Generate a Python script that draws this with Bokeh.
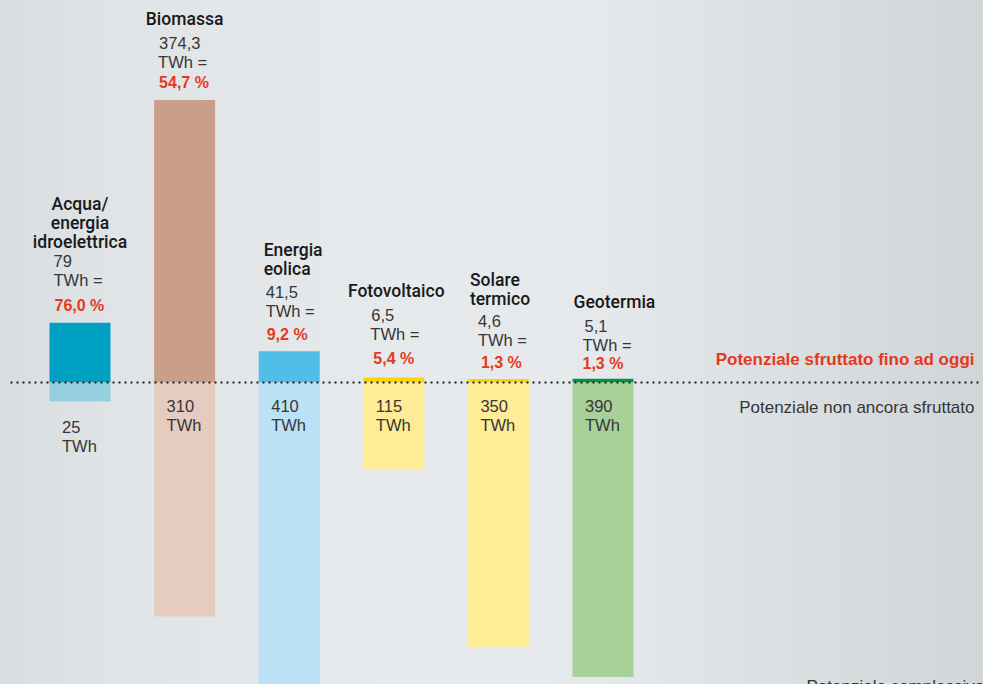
from bokeh.plotting import figure
from bokeh.models import Range1d, GlobalInlineStyleSheet
from bokeh.embed import file_html
from bokeh.resources import INLINE
from bokeh.core.properties import value

# ---------------- data ----------------
category_lines = [["Acqua/", "energia", "idroelettrica"], ["Biomassa"], ["Energia", "eolica"],
                  ["Fotovoltaico"], ["Solare", "termico"], ["Geotermia"]]
exploited_twh = [79, 374.3, 41.5, 6.5, 4.6, 5.1]
exploited_labels = ["79", "374,3", "41,5", "6,5", "4,6", "5,1"]
share_labels = ["76,0 %", "54,7 %", "9,2 %", "5,4 %", "1,3 %", "1,3 %"]
unexploited_twh = [25, 310, 410, 115, 350, 390]
unexploited_labels = ["25", "310", "410", "115", "350", "390"]
legend_exploited = "Potenziale sfruttato fino ad oggi"
legend_unexploited = "Potenziale non ancora sfruttato"
legend_total = "Potenziale complessivo"

# ---------------- styles ----------------
color_exploited = ["#00a0c3", "#c99f89", "#50bee6", "#ffd500", "#ffd500", "#009a3e"]
color_unexploited = ["#96d0e0", "#e6cbc0", "#bbe1f4", "#ffec97", "#ffec97", "#a8d199"]
RED = "#e5391c"
NAME_COL = "#1a1a1a"
NUM_COL = "#363636"
FONT = value("Liberation Sans")
NAME_FONT = value("Roboto Medium, Roboto, Liberation Sans")

# ---------------- layout ----------------
W, H = 983, 684
SLOT = 104.6       # px between bar centres
X_FIRST = 79.5     # frame px of first bar centre
BASE = 382.0       # frame px of the zero line
K = 0.755          # px per TWh
BAR_W = 61 / SLOT

# per-category label tuning (pixels)
name_align = ["center", "center", "left", "center", "left", "left"]
name_dx = [0, 0, -25.5, 2.5, -28.5, -29.5]
num_dx = [-26.5, -25.5, -23.5, -22.5, -20.5, -18.5]
twh_dx = [-26.5, -26.5, -23.5, -23.5, -20.5, -20.5]
pct_dx = [-25.5, -25.5, -22.5, -20.5, -17.5, -20.5]
pct_lift = [0, 0, 0, 2, 0, -2]
twh_extra = [5, 0, 2, 4, 1, -2]
name_gap = [19, 24, 23, 24, 22, 24]


def ydata(fy):
    return (BASE - fy) / K


def xdata(i, dx):
    return i + dx / SLOT


p = figure(width=W, height=H, output_backend="svg", toolbar_location=None,
           x_range=Range1d(-X_FIRST / SLOT, (W - X_FIRST) / SLOT),
           y_range=Range1d(-(H - BASE) / K, BASE / K),
           min_border=0, x_axis_location=None, y_axis_location=None,
           background_fill_alpha=0, border_fill_alpha=0, outline_line_color=None)
p.grid.visible = False

p.stylesheets = [GlobalInlineStyleSheet(css=(
    "html, body { overflow: hidden; background: linear-gradient(to right, #d8dde0 0%, #e0e4e7 12%, "
    "#e6eaed 42%, #e5e9ec 60%, #d0d5d8 100%) fixed; }"))]

idx = list(range(len(exploited_twh)))
neg_unexploited = [-v for v in unexploited_twh]
zeros = [0] * len(idx)

p.vbar(x=idx, width=BAR_W, bottom=zeros, top=exploited_twh, fill_color=color_exploited, line_color=None)
p.vbar(x=idx, width=BAR_W, bottom=neg_unexploited, top=zeros, fill_color=color_unexploited, line_color=None)

# dotted zero line
p.segment(x0=[xdata(0, 10 - X_FIRST)], y0=[0], x1=[xdata(0, 978 - X_FIRST)], y1=[0],
          line_color="#1e1e1e", line_width=2, line_dash="2 4")

# labels above the bars
nx, ny, nt, na = [], [], [], []
ux, uy, ut = [], [], []
px_, py_, pt_ = [], [], []
for i in idx:
    top_fy = BASE - exploited_twh[i] * K
    pct_fy = top_fy - 17 - pct_lift[i]
    twh_fy = pct_fy - 21 - twh_extra[i]
    num_fy = twh_fy - 19
    lines = category_lines[i]
    last_fy = num_fy - name_gap[i]
    for j, ln in enumerate(lines):
        fy = last_fy - 19 * (len(lines) - 1 - j)
        nx.append(xdata(i, name_dx[i])); ny.append(ydata(fy)); nt.append(ln); na.append(name_align[i])
    ux += [xdata(i, num_dx[i]), xdata(i, twh_dx[i])]
    uy += [ydata(num_fy), ydata(twh_fy)]
    ut += [exploited_labels[i], "TWh ="]
    px_.append(xdata(i, pct_dx[i])); py_.append(ydata(pct_fy)); pt_.append(share_labels[i])

p.text(x=nx, y=ny, text=nt, text_align=na, text_baseline="middle", text_font=NAME_FONT,
       text_font_size="17.5px", text_color=NAME_COL)
p.text(x=ux, y=uy, text=ut, text_align="left", text_baseline="middle", text_font=FONT,
       text_font_size="16.5px", text_color=NUM_COL)
p.text(x=px_, y=py_, text=pt_, text_align="left", text_baseline="middle", text_font=FONT,
       text_font_size="16px", text_font_style="bold", text_color=RED)

# labels for the unexploited part
lx, ly, lt = [], [], []
for i in idx:
    depth = unexploited_twh[i] * K
    first = BASE + 23 if depth > 50 else BASE + depth + 26
    lx += [xdata(i, -18), xdata(i, -18)]
    ly += [ydata(first), ydata(first + 19)]
    lt += [unexploited_labels[i], "TWh"]
p.text(x=lx, y=ly, text=lt, text_align="left", text_baseline="middle", text_font=FONT,
       text_font_size="16.5px", text_color=NUM_COL)

# right-hand legend texts
xr = xdata(0, 974 - X_FIRST)
p.text(x=[xr], y=[ydata(BASE - 23)], text=[legend_exploited], text_align="right",
       text_baseline="middle", text_font=FONT, text_font_size="17px",
       text_font_style="bold", text_color=RED)
p.text(x=[xr], y=[ydata(BASE + 25)], text=[legend_unexploited], text_align="right",
       text_baseline="middle", text_font=FONT, text_font_size="17px", text_color=NUM_COL)
p.text(x=[xdata(0, 806 - X_FIRST)], y=[ydata(676)], text=[legend_total], text_align="left",
       text_baseline="top", text_font=FONT, text_font_size="17px", text_color=NUM_COL)

open("out.html", "w").write(file_html(p, INLINE))
